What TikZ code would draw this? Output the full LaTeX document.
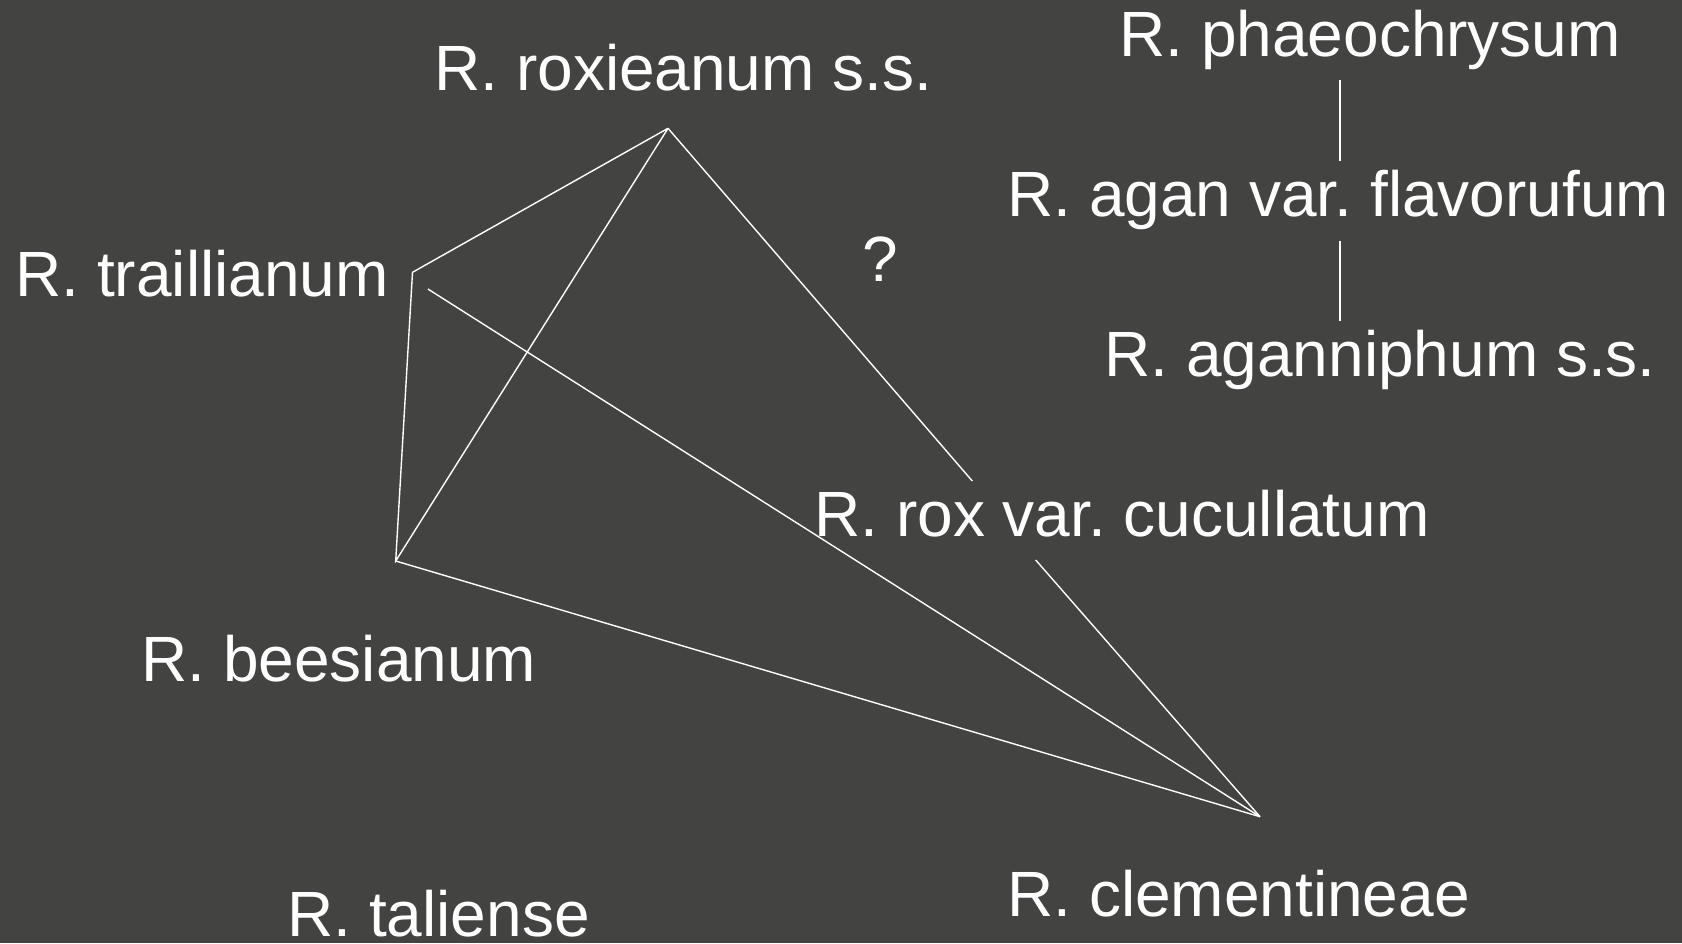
\documentclass[tikz,border=0pt]{standalone}
\usepackage{fontspec}
\setmainfont{Liberation Sans}
\usepackage{xcolor}
\usepackage{tikz}
\definecolor{slidebg}{HTML}{434341}
\frenchspacing

\begin{document}
\begin{tikzpicture}[
  x=0.5pt, y=-0.5pt,
  every node/.style={font=\fontsize{32}{38}\selectfont, text=white, inner sep=0pt},
  taxon/.style={anchor=base west},
  link/.style={draw=white, line width=0.7pt}
]
  % Background
  \fill[slidebg] (0,0) rectangle (1682,943);

  % Species names
  \node[taxon] (rox)   at (434, 90)    {R. roxieanum s.s.};
  \node[taxon] (trail) at (15, 296.7)  {R. traillianum};
  \node[taxon] (bees)  at (141, 681.7) {R. beesianum};
  \node[taxon] (tali)  at (287, 936.7) {R. taliense};
  \node[taxon] (cucul) at (814, 536.7) {R. rox var. cucullatum};
  \node[taxon] (clem)  at (1007, 916.7) {R. clementineae};
  \node[anchor=base] (ques) at (880.4, 281.7) {?};

  % Aganniphum group
  \node[taxon] (phaeo) at (1119, 56.7)  {R. phaeochrysum};
  \node[taxon] (flavo) at (1007, 216.7) {R. agan var. flavorufum};
  \node[taxon] (agann) at (1104, 376.7) {R. aganniphum s.s.};

  % Corners of the network
  \coordinate (roxpt)   at (668, 128.3);
  \coordinate (trailpt) at (412.5, 272.3);
  \coordinate (trailout) at (427.9, 289);
  \coordinate (beespt)  at (395.7, 561);
  \coordinate (cuculin) at (972.3, 481);
  \coordinate (cuculout) at (1035.7, 560);
  \coordinate (clempt)  at (1260, 816.7);
  \coordinate (phaeobot) at (1340, 80);
  \coordinate (flavotop) at (1340, 160.7);
  \coordinate (flavobot) at (1340, 240.7);
  \coordinate (agantop)  at (1340, 320.7);

  % Links
  \draw[link] (roxpt) -- (trailpt) -- (beespt) -- (roxpt);
  \draw[link] (roxpt) -- (cuculin);
  \draw[link] (trailout) -- (clempt);
  \draw[link] (beespt) -- (clempt);
  \draw[link] (cuculout) -- (clempt);
  \draw[link] (phaeobot) -- (flavotop);
  \draw[link] (flavobot) -- (agantop);
\end{tikzpicture}
\end{document}
